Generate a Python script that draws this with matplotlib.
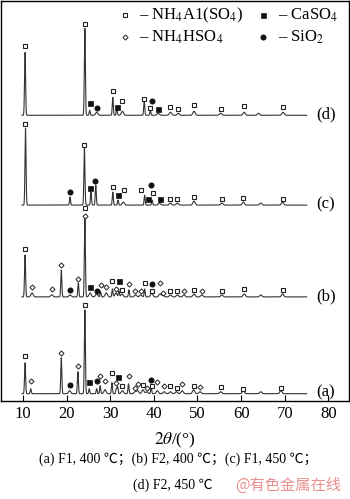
import numpy as np
import matplotlib
matplotlib.use("Agg")
import matplotlib.pyplot as plt

plt.rcParams['font.family'] = ['Liberation Serif', 'Noto Sans CJK SC', 'DejaVu Sans']
plt.rcParams['mathtext.fontset'] = 'stix'

# ---------------- data ----------------
patterns = ['(a)', '(b)', '(c)', '(d)']
offsets = [7, 104, 196, 286]

# peak positions (2θ) and heights
a_pos = [10.5, 11.8, 18.8, 20.7, 22.6, 24.2, 25.2, 26.9, 27.7, 28.8, 30.4, 31.4, 31.7, 32.8, 34.2,
         35.7, 36.3, 37.5, 38.4, 39.4, 40.8, 42.4, 43.8, 45.2, 46.5, 49.1, 50.6, 55.3, 60.5, 64.5, 69.1]
a_h = [31, 5, 36, 3, 22, 84, 5, 5, 8, 4, 11, 5, 7, 3, 10,
       2, 3, 4, 2, 6, 3, 2, 2, 2, 3, 4, 2, 2, 3, 2, 3]
b_pos = [10.5, 12.1, 16.6, 18.8, 20.8, 22.7, 24.2, 25.4, 26.9, 27.8, 29.1, 30.5, 31.3, 32.0, 32.7,
         34.3, 35.8, 37.0, 37.9, 39.5, 41.4, 42.1, 43.8, 45.4, 46.9, 49.2, 51.0, 55.6, 60.7, 64.5, 69.5]
b_h = [42, 4, 2, 27, 2, 14, 79, 4, 3, 5, 4, 8, 4, 6, 3,
       7, 2, 2, 8, 4, 3, 2, 2, 2, 2, 3, 2, 2, 3, 2, 3]
c_pos = [10.6, 20.8, 24.1, 25.6, 26.7, 30.6, 31.8, 33.0, 37.9, 39.6, 41.3, 43.8, 45.4, 49.2,
         55.6, 60.5, 64.5, 69.5]
c_h = [77, 8, 57, 13, 20, 13, 5, 3, 10, 5, 2, 2, 2, 4, 2, 3, 2, 3]
d_pos = [10.5, 24.2, 25.3, 26.9, 30.6, 31.5, 32.8, 37.8, 39.2, 41.0, 43.8, 45.6, 49.2, 55.3,
         60.7, 64.0, 69.6]
d_h = [63, 87, 5, 3, 18, 7, 4, 15, 5, 2, 3, 2, 4, 2, 3, 2, 3]

peak_pos = [a_pos, b_pos, c_pos, d_pos]
peak_h = [a_h, b_h, c_h, d_h]

# phase markers: (2θ, height above baseline)
a_nh4al = [(10.6, 37.3), (24.2, 89), (30.4, 21), (32.8, 7.7), (37.5, 9), (39.5, 7.3), (43.8, 7.3),
           (45.2, 5.7), (49.1, 8), (55.3, 6.3), (60.5, 5), (69.1, 5.7)]
a_nh4hso4 = [(11.8, 12.7), (18.8, 40.7), (22.6, 27.3), (27.7, 17.7), (28.8, 12.7), (31.4, 10.7),
             (34.2, 18), (35.7, 5.7), (36.3, 10), (38.4, 5.7), (40.8, 11.7), (42.4, 8), (46.5, 9.7),
             (50.6, 6.3)]
a_caso4 = [(25.2, 11.7), (31.7, 16.3)]
a_sio2 = [(20.7, 8.3), (26.9, 12.7), (39.4, 13.3)]

b_nh4al = [(10.5, 47.7), (24.2, 88.7), (30.5, 15.7), (32.7, 7.3), (37.9, 13.7), (39.5, 6.3),
           (43.8, 6), (45.4, 5.7), (49.2, 6.7), (55.6, 6.3), (60.7, 8), (69.5, 7)]
b_nh4hso4 = [(12.1, 9.7), (16.6, 7.7), (18.8, 32), (22.7, 18.3), (24.2, 81.3), (27.8, 12),
             (29.1, 9.7), (31.3, 8.3), (34.3, 13.3), (35.8, 5.7), (37.0, 5.7), (41.4, 13.7),
             (42.1, 4.3), (46.9, 6), (51.0, 5.7)]
b_caso4 = [(25.4, 10), (32.0, 15.7)]
b_sio2 = [(20.8, 7), (26.9, 6), (39.5, 13.3)]

c_nh4al = [(10.6, 81.7), (24.1, 60), (30.6, 18.3), (33.2, 15.3), (37.1, 14.7), (39.8, 12.3),
           (43.8, 6.3), (45.4, 6.3), (49.2, 8), (55.6, 6), (60.5, 7), (69.5, 6)]
c_nh4hso4 = []
c_caso4 = [(25.4, 17.3), (31.8, 9.7), (38.6, 6.3), (41.3, 6)]
c_sio2 = [(20.8, 12.7), (26.6, 24), (39.4, 20)]

d_nh4al = [(10.5, 69.3), (24.2, 91), (30.6, 24.7), (32.8, 14.3), (37.8, 16.7), (39.2, 7.3),
           (43.8, 8.3), (45.6, 6.7), (49.2, 10), (55.3, 6.3), (60.7, 9), (69.6, 8.3)]
d_nh4hso4 = []
d_caso4 = [(25.3, 12.7), (31.5, 8), (41.0, 6)]
d_sio2 = [(26.9, 7.3), (39.5, 14)]

markers_all = [
    [a_nh4al, a_nh4hso4, a_caso4, a_sio2],
    [b_nh4al, b_nh4hso4, b_caso4, b_sio2],
    [c_nh4al, c_nh4hso4, c_caso4, c_sio2],
    [d_nh4al, d_nh4hso4, d_caso4, d_sio2],
]
phase_labels = [r'– NH$_4$A1(SO$_4$)', r'– NH$_4$HSO$_4$', r'– CaSO$_4$', r'– SiO$_2$']
xticks = [10, 20, 30, 40, 50, 60, 70, 80]
caption1 = '(a) F1, 400 ℃；(b) F2, 400 ℃；(c) F1, 450 ℃；'
caption2 = '(d) F2, 450 ℃'
watermark = '@有色金属在线'

# ---------------- styles ----------------
mstyles = [dict(marker='s', mfc='white', mec='#222222', ms=3.4, mew=0.8),
           dict(marker='D', mfc='white', mec='#222222', ms=2.6, mew=0.7),
           dict(marker='s', mfc='#111111', mec='#111111', ms=3.6, mew=0.5),
           dict(marker='o', mfc='#111111', mec='#111111', ms=3.8, mew=0.5)]

fig = plt.figure(figsize=(3.5, 4.99), dpi=100)
ax = fig.add_axes([0.003, 0.197, 0.994, 0.8])

x = np.linspace(9.8, 75, 4000)
for i in range(4):
    y = np.full_like(x, offsets[i], dtype=float)
    for p, h in zip(peak_pos[i], peak_h[i]):
        s = 0.12 if h > 4 else 0.25
        y += h * np.exp(-(x - p) ** 2 / (2 * s ** 2))
    ax.plot(x, y, color='#333333', lw=0.8)
    for j, mk in enumerate(markers_all[i]):
        if mk:
            mx = [m[0] for m in mk]
            my = [offsets[i] + m[1] for m in mk]
            ax.plot(mx, my, ls='none', **mstyles[j])
    ax.text(79.4, offsets[i] + 1, patterns[i], fontsize=12, ha='center', va='center')

# legend
leg_x = [33.3, 65.0, 33.3, 65.0]
leg_y = [386, 386, 364, 364]
order = [0, 2, 1, 3]
for k in range(4):
    j = order[k]
    ax.plot([leg_x[k]], [leg_y[k]], ls='none', **mstyles[j])
    ax.text(leg_x[k] + 3.4, leg_y[k], phase_labels[j], fontsize=12, ha='left', va='center')

ax.set_xlim(5, 84.7)
ax.set_ylim(0, 400)
ax.set_xticks(xticks)
ax.set_xticklabels([str(t) for t in xticks], fontsize=12)
ax.tick_params(axis='x', direction='in', length=4, width=0.8, pad=4)
ax.set_yticks([])
for sp in ax.spines.values():
    sp.set_linewidth(1.0)
ax.set_xlabel(r'$\mathit{2\theta}$/(°)', fontsize=12.5, labelpad=6)

fig.text(0.51, 1 - 459 / 499, caption1, fontsize=10, ha='center', va='center')
fig.text(0.38, 1 - 485 / 499, caption2, fontsize=10, ha='left', va='center')
fig.text(0.975, 1 - 485 / 499, watermark, fontsize=11, ha='right', va='center',
         color='#e8908f', family=['Noto Sans CJK SC'])

fig.savefig('out.png', dpi=100)
